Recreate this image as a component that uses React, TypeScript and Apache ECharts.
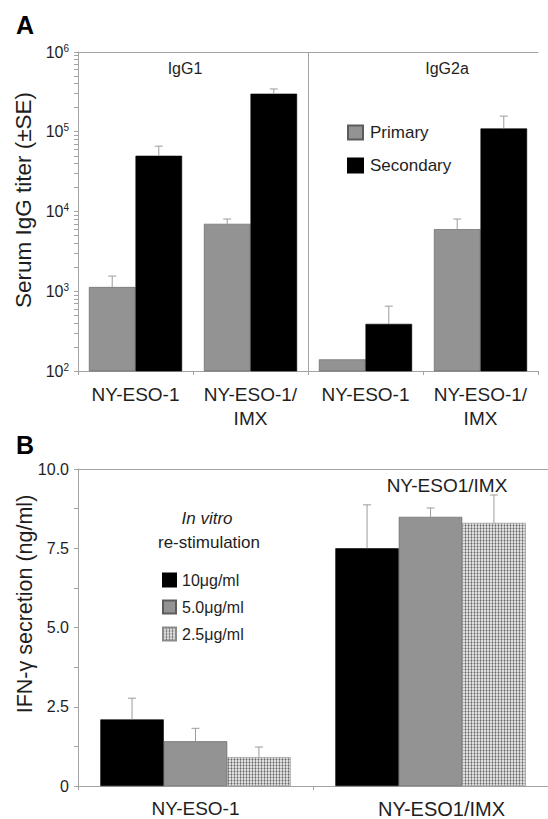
import React, { useEffect, useRef } from 'react';
import * as echarts from 'echarts';

const FONT = "'Liberation Sans', Arial, Helvetica, sans-serif";

// ---- Panel A data ----
const categoriesA = ['NY-ESO-1', 'NY-ESO-1/\nIMX', 'NY-ESO-1', 'NY-ESO-1/\nIMX'];
const subclassLabelsA = ['IgG1', 'IgG2a'];
const seriesNamesA = ['Primary', 'Secondary'];
const primaryA = [1130, 7000, 140, 6000];
const primaryErrA: (number | null)[] = [1550, 8050, null, 8050];
const secondaryA = [50000, 300000, 390, 110000];
const secondaryErrA: (number | null)[] = [66000, 344000, 650, 157000];
const yLabelTicksA = [100, 1000, 10000, 100000, 1000000];

// ---- Panel B data ----
const categoriesB = ['NY-ESO-1', 'NY-ESO1/IMX'];
const seriesNamesB = ['10\u03bcg/ml', '5.0\u03bcg/ml', '2.5\u03bcg/ml'];
const conc10 = [2.1, 7.5];
const conc10Err = [2.77, 8.87];
const conc5 = [1.41, 8.49];
const conc5Err = [1.82, 8.77];
const conc25 = [0.91, 8.3];
const conc25Err = [1.23, 9.18];
const yTicksB = [0, 2.5, 5, 7.5, 10];

const AXIS = '#a3a3a3';
const TXT = '#1e1e1e';
const GAP = 0.19;

function minorLogTicks(): number[] {
  const out: number[] = [];
  for (let d = 100; d < 1000000; d *= 10) {
    for (let m = 1; m < 10; m++) out.push(d * m);
  }
  out.push(1000000);
  return out;
}

function errSeries(id: string, vals: number[], errs: (number | null)[], k: number, n: number, xi: number, yi: number) {
  const data: any[] = [];
  vals.forEach((v, i) => {
    if (errs[i] != null) data.push([i, v, errs[i]]);
  });
  return {
    type: 'custom',
    id,
    xAxisIndex: xi,
    yAxisIndex: yi,
    silent: true,
    z: 5,
    data,
    encode: { x: 0, y: 1 },
    renderItem: (_p: any, api: any) => {
      const ci = api.value(0);
      const v = api.value(1);
      const e = api.value(2);
      const p0 = api.coord([ci, v]);
      const p1 = api.coord([ci, e]);
      const catW = api.coord([1, v])[0] - api.coord([0, v])[0];
      const bw = (catW * (1 - GAP)) / n;
      const x = p0[0] + (k - (n - 1) / 2) * bw;
      return {
        type: 'group',
        children: [
          { type: 'line', shape: { x1: x, y1: p0[1], x2: x, y2: p1[1] }, style: { stroke: '#9c9c9c', lineWidth: 1 } },
          { type: 'line', shape: { x1: x - 4, y1: p1[1], x2: x + 4, y2: p1[1] }, style: { stroke: '#9c9c9c', lineWidth: 1 } },
        ],
      };
    },
  };
}

// divider between the IgG1 and IgG2a halves of panel A (boundary before category index 2)
function dividerSeries() {
  return {
    type: 'custom',
    id: 'divider',
    xAxisIndex: 0,
    yAxisIndex: 0,
    silent: true,
    z: 1,
    data: [[2, 1000]],
    encode: { x: 0, y: 1 },
    renderItem: (params: any, api: any) => {
      const cs = params.coordSys;
      const p2 = api.coord([2, 1000]);
      const p1 = api.coord([1, 1000]);
      const x = Math.round((p1[0] + p2[0]) / 2) + 0.5;
      return {
        type: 'line',
        shape: { x1: x, y1: cs.y, x2: x, y2: cs.y + cs.height },
        style: { stroke: AXIS, lineWidth: 1 },
      };
    },
  };
}

function makePattern() {
  const c = document.createElement('canvas');
  c.width = 3;
  c.height = 3;
  const ctx = c.getContext('2d')!;
  ctx.fillStyle = '#dedede';
  ctx.fillRect(0, 0, 3, 3);
  ctx.fillStyle = '#9a9a9a';
  ctx.fillRect(0, 0, 1, 3);
  ctx.fillStyle = '#b4b4b4';
  ctx.fillRect(0, 0, 3, 1);
  ctx.fillStyle = '#666666';
  ctx.fillRect(0, 0, 1, 1);
  return { image: c, repeat: 'repeat', imageWidth: 3, imageHeight: 3 } as any;
}

export default function App() {
  const ref = useRef<HTMLDivElement>(null);
  useEffect(() => {
    if (!ref.current) return;
    const chart = echarts.init(ref.current, null, { renderer: 'svg' });
    const pattern = makePattern();
    const xAxisBase = {
      type: 'category',
      axisLine: { lineStyle: { color: AXIS, width: 1 } },
      axisTick: { show: true, length: 4, lineStyle: { color: AXIS } },
    };
    const option: any = {
      animation: false,
      backgroundColor: '#ffffff',
      textStyle: { fontFamily: FONT },
      grid: [
        { left: 78, top: 52, width: 460, height: 319 },
        { left: 78, top: 469, width: 480, height: 318 },
      ],
      legend: [
        {
          data: seriesNamesA,
          orient: 'vertical',
          left: 342,
          top: 119,
          itemWidth: 15,
          itemHeight: 14,
          itemGap: 16,
          icon: 'rect',
          textStyle: { fontSize: 17, color: TXT, fontFamily: FONT, padding: [0, 0, 0, 2] },
          selectedMode: false,
        },
        {
          data: seriesNamesB,
          orient: 'vertical',
          left: 157,
          top: 567,
          itemWidth: 13,
          itemHeight: 13,
          itemGap: 11,
          icon: 'rect',
          textStyle: { fontSize: 16, color: TXT, fontFamily: FONT, padding: [0, 0, 0, 1] },
          selectedMode: false,
        },
      ],
      xAxis: [
        {
          ...xAxisBase,
          gridIndex: 0,
          data: categoriesA,
          axisLabel: { interval: 0, fontSize: 19, color: TXT, margin: 11, lineHeight: 24, fontFamily: FONT },
          splitLine: { show: false },
        },
        {
          type: 'category',
          gridIndex: 0,
          position: 'top',
          data: categoriesA,
          axisLine: { lineStyle: { color: AXIS } },
          axisTick: { show: false },
          axisLabel: { show: false },
        },
        {
          ...xAxisBase,
          gridIndex: 1,
          data: categoriesB,
          axisLabel: {
            interval: 0,
            fontSize: 19,
            color: TXT,
            margin: 13,
            fontFamily: FONT,
            formatter: (v: string, i: number) => (i === 1 ? '{s|' + v + '}' : v),
            rich: { s: { fontSize: 20, color: TXT, fontFamily: FONT, padding: [0, 0, 0, 22] } },
          },
        },
        {
          type: 'category',
          gridIndex: 1,
          position: 'top',
          data: categoriesB,
          axisLine: { lineStyle: { color: AXIS } },
          axisTick: { show: false },
          axisLabel: { show: false },
        },
      ],
      yAxis: [
        {
          type: 'log',
          logBase: 10,
          gridIndex: 0,
          min: 100,
          max: 1000000,
          axisLine: { show: true, lineStyle: { color: AXIS } },
          axisTick: { show: true, length: 4, lineStyle: { color: AXIS }, customValues: minorLogTicks() },
          splitLine: { show: false },
          axisLabel: {
            customValues: yLabelTicksA,
            margin: 9,
            color: TXT,
            fontFamily: FONT,
            formatter: (v: number) => '{n|10}{s|' + Math.round(Math.log10(v)) + '}',
            rich: {
              n: { fontSize: 16, color: TXT, fontFamily: FONT, lineHeight: 18 },
              s: { fontSize: 10, color: TXT, fontFamily: FONT, verticalAlign: 'top', lineHeight: 18, padding: [0, 0, 8, 0] },
            },
          },
        },
        {
          type: 'value',
          gridIndex: 1,
          min: 0,
          max: 10,
          interval: 1.25,
          axisLine: { show: true, lineStyle: { color: AXIS } },
          axisTick: { show: true, length: 4, lineStyle: { color: AXIS } },
          splitLine: { show: false },
          axisLabel: {
            margin: 9,
            fontSize: 16,
            color: TXT,
            fontFamily: FONT,
            formatter: (v: number) => {
              const hit = yTicksB.find((t) => Math.abs(t - v) < 1e-6);
              if (hit === undefined) return '';
              return hit === 0 ? '0' : hit.toFixed(1);
            },
          },
        },
      ],
      series: [
        dividerSeries(),
        {
          type: 'bar',
          name: seriesNamesA[0],
          xAxisIndex: 0,
          yAxisIndex: 0,
          data: primaryA,
          barGap: '0%',
          barCategoryGap: GAP * 100 + '%',
          clip: true,
          itemStyle: { color: '#939393', borderColor: '#5c5c5c', borderWidth: 0.6 },
        },
        {
          type: 'bar',
          name: seriesNamesA[1],
          xAxisIndex: 0,
          yAxisIndex: 0,
          data: secondaryA,
          barGap: '0%',
          barCategoryGap: GAP * 100 + '%',
          clip: true,
          itemStyle: { color: '#000000', borderColor: '#000000', borderWidth: 0.6 },
        },
        errSeries('errA0', primaryA, primaryErrA, 0, 2, 0, 0),
        errSeries('errA1', secondaryA, secondaryErrA, 1, 2, 0, 0),
        {
          type: 'bar',
          name: seriesNamesB[0],
          xAxisIndex: 2,
          yAxisIndex: 1,
          data: conc10,
          barGap: '0%',
          barCategoryGap: GAP * 100 + '%',
          itemStyle: { color: '#000000', borderColor: '#000000', borderWidth: 0.6 },
        },
        {
          type: 'bar',
          name: seriesNamesB[1],
          xAxisIndex: 2,
          yAxisIndex: 1,
          data: conc5,
          barGap: '0%',
          barCategoryGap: GAP * 100 + '%',
          itemStyle: { color: '#939393', borderColor: '#5c5c5c', borderWidth: 0.6 },
        },
        {
          type: 'bar',
          name: seriesNamesB[2],
          xAxisIndex: 2,
          yAxisIndex: 1,
          data: conc25,
          barGap: '0%',
          barCategoryGap: GAP * 100 + '%',
          itemStyle: { color: pattern, borderColor: '#8a8a8a', borderWidth: 0.6 },
        },
        errSeries('errB0', conc10, conc10Err, 0, 3, 2, 1),
        errSeries('errB1', conc5, conc5Err, 1, 3, 2, 1),
        errSeries('errB2', conc25, conc25Err, 2, 3, 2, 1),
      ],
      graphic: [
        { type: 'text', x: 16, y: 12, style: { text: 'A', font: "bold 25px " + FONT, fill: '#000' } },
        { type: 'text', x: 16, y: 432, style: { text: 'B', font: "bold 25px " + FONT, fill: '#000' } },
        { type: 'text', x: 185, y: 68, style: { text: subclassLabelsA[0], font: '16px ' + FONT, fill: TXT, textAlign: 'center', textVerticalAlign: 'middle' } },
        { type: 'text', x: 447, y: 68, style: { text: subclassLabelsA[1], font: '16px ' + FONT, fill: TXT, textAlign: 'center', textVerticalAlign: 'middle' } },
        { type: 'text', x: 447, y: 485, style: { text: 'NY-ESO1/IMX', font: '19px ' + FONT, fill: TXT, textAlign: 'center', textVerticalAlign: 'middle' } },
        { type: 'text', x: 207, y: 518, style: { text: 'In vitro', font: 'italic 17px ' + FONT, fill: TXT, textAlign: 'center', textVerticalAlign: 'middle' } },
        { type: 'text', x: 209, y: 542, style: { text: 're-stimulation', font: '17px ' + FONT, fill: TXT, textAlign: 'center', textVerticalAlign: 'middle' } },
        { type: 'text', x: 23, y: 200, rotation: Math.PI / 2, style: { text: 'Serum IgG titer (\u00b1SE)', font: '22.5px ' + FONT, fill: TXT, textAlign: 'center', textVerticalAlign: 'middle' } },
        { type: 'text', x: 25, y: 604, rotation: Math.PI / 2, style: { text: 'IFN-\u03b3 secretion (ng/ml)', font: '21.5px ' + FONT, fill: TXT, textAlign: 'center', textVerticalAlign: 'middle' } },
      ],
    };
    chart.setOption(option);
    return () => chart.dispose();
  }, []);
  return (
    <div
      ref={ref}
      style={{ position: 'fixed', left: 0, top: 0, width: 548, height: 819, background: '#fff' }}
    />
  );
}
